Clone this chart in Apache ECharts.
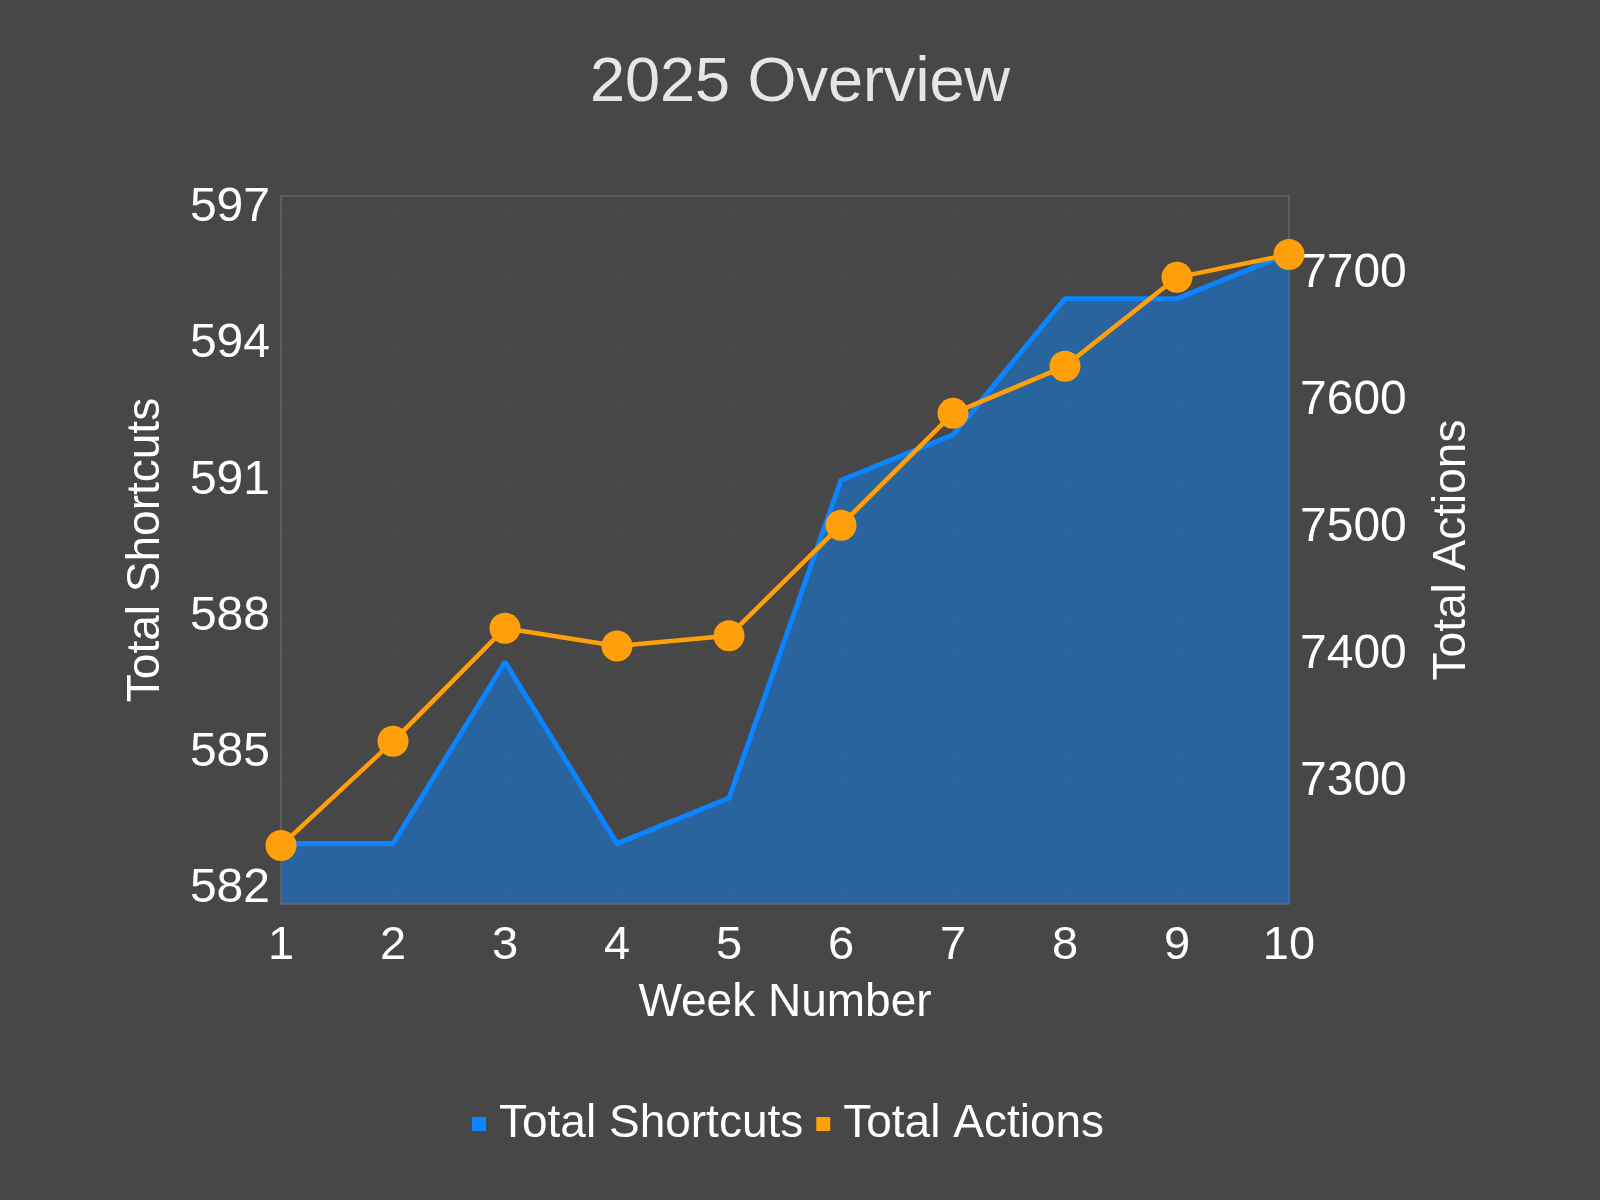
<!DOCTYPE html>
<html>
<head>
<meta charset="utf-8">
<script src="https://cdn.jsdelivr.net/npm/echarts@6/dist/echarts.min.js"></script>
<style>
html,body{margin:0;padding:0;background:#474747;}
#chart{width:1600px;height:1200px;}
</style>
</head>
<body>
<div id="chart"></div>
<script>
const weeks = ['1','2','3','4','5','6','7','8','9','10'];
const totalShortcuts = [583, 583, 587, 583, 584, 591, 592, 595, 595, 596];
const totalActions = [7250, 7332, 7421, 7407, 7415, 7502, 7590, 7627, 7697, 7715];
const leftTicks = [582, 585, 588, 591, 594, 597];
const rightTicks = [7300, 7400, 7500, 7600, 7700];

const FONT = '"Liberation Sans", Arial, sans-serif';
const chart = echarts.init(document.getElementById('chart'));
chart.setOption({
  backgroundColor: '#474747',
  animation: false,
  title: {
    text: '2025 Overview',
    left: 'center',
    top: 47,
    textStyle: { color: '#e6e6e6', fontSize: 63, fontWeight: 'normal', fontFamily: FONT }
  },
  legend: {
    bottom: 48,
    left: 467,
    icon: 'rect',
    itemWidth: 14,
    itemHeight: 14,
    itemGap: 13,
    textStyle: { color: '#ffffff', fontSize: 46, fontFamily: FONT, padding: [0, 0, 0, 8] },
    data: ['Total Shortcuts', 'Total Actions']
  },
  grid: {
    left: 281, right: 311, top: 196, bottom: 296,
    show: true, borderColor: '#5c5c5c', borderWidth: 2, backgroundColor: 'transparent'
  },
  xAxis: {
    type: 'category',
    data: weeks,
    boundaryGap: false,
    name: 'Week Number',
    nameLocation: 'middle',
    nameGap: 76,
    nameTextStyle: { color: '#ffffff', fontSize: 46, fontFamily: FONT },
    axisLine: { show: false },
    axisTick: { show: false },
    axisLabel: { color: '#ffffff', fontSize: 47, fontFamily: FONT, margin: 19 },
    splitLine: { show: true, lineStyle: { color: 'rgba(255,255,255,0.025)', width: 1 } }
  },
  yAxis: [
    {
      type: 'value',
      min: 581.67,
      max: 597.26,
      name: 'Total Shortcuts',
      nameLocation: 'middle',
      nameGap: 112,
      nameRotate: 90,
      nameTextStyle: { color: '#ffffff', fontSize: 46, fontFamily: FONT },
      axisLine: { show: false },
      axisTick: { show: false, customValues: leftTicks },
      axisLabel: { color: '#ffffff', fontSize: 48, fontFamily: FONT, margin: 11, customValues: leftTicks },
      splitLine: { show: true, lineStyle: { color: 'rgba(255,255,255,0.02)', width: 1 } }
    },
    {
      type: 'value',
      min: 7204,
      max: 7761,
      position: 'right',
      name: 'Total Actions',
      nameLocation: 'middle',
      nameGap: 140,
      nameRotate: 90,
      nameTextStyle: { color: '#ffffff', fontSize: 46, fontFamily: FONT },
      axisLine: { show: false },
      axisTick: { show: false, customValues: rightTicks },
      axisLabel: {
        color: '#ffffff', fontSize: 48, fontFamily: FONT, margin: 11, customValues: rightTicks,
        formatter: function (v) { return String(v); }
      },
      splitLine: { show: true, lineStyle: { color: 'rgba(255,255,255,0.03)', width: 1 } }
    }
  ],
  series: [
    {
      name: 'Total Shortcuts',
      type: 'line',
      yAxisIndex: 0,
      data: totalShortcuts,
      showSymbol: false,
      itemStyle: { color: '#0a84ff' },
      lineStyle: { color: '#0a84ff', width: 5 },
      areaStyle: { color: '#0a84ff', opacity: 0.48, origin: 'start' },
      z: 2
    },
    {
      name: 'Total Actions',
      type: 'line',
      yAxisIndex: 1,
      data: totalActions,
      symbol: 'circle',
      symbolSize: 31,
      itemStyle: { color: '#ff9f0a' },
      lineStyle: { color: '#ff9f0a', width: 4.5 },
      z: 3,
      clip: false
    }
  ]
});
</script>
</body>
</html>
